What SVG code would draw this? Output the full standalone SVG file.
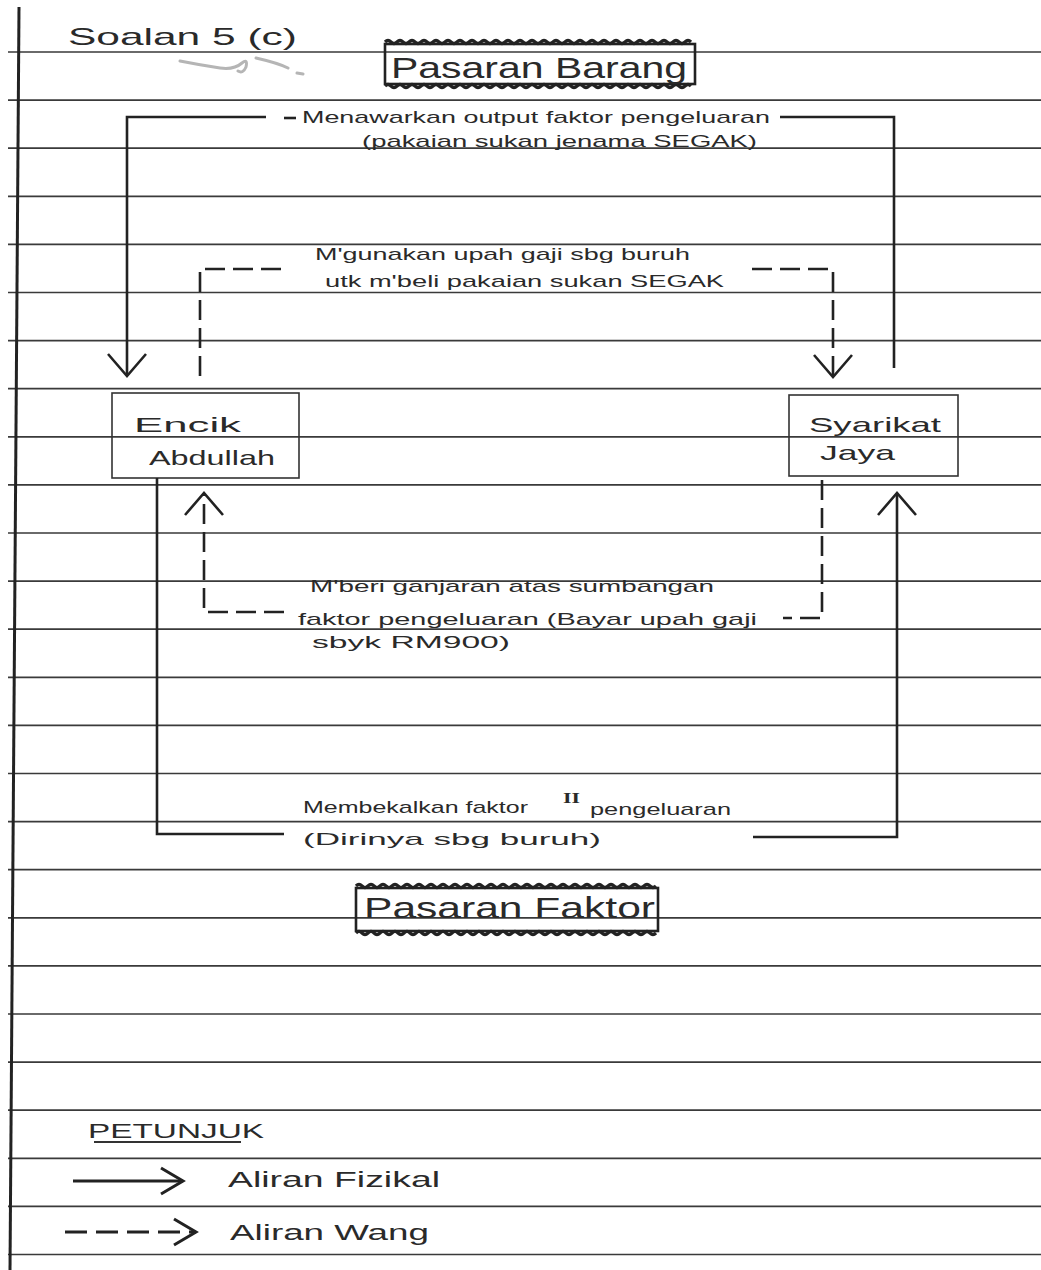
<svg xmlns="http://www.w3.org/2000/svg" width="1041" height="1270" viewBox="0 0 1041 1270">
<style>
.rule{stroke:#3a3a3a;stroke-width:1.7;fill:none}
.margin{stroke:#222;stroke-width:3;fill:none}
.t{font-family:"Liberation Sans","DejaVu Sans",sans-serif;fill:#2a2a2a}
.lbl{font-size:17px}
.big{font-size:30px}
.nd{font-size:21px}
.box{fill:none;stroke:#333;stroke-width:1.6}
.wbox{fill:none;stroke:#222;stroke-width:2.6}
.wave{fill:none;stroke:#222;stroke-width:3.2}
.solid{fill:none;stroke:#222;stroke-width:2.6}
.dash{fill:none;stroke:#222;stroke-width:2.6;stroke-dasharray:20 8}
</style>
<defs>
<marker id="ah" viewBox="-2 -22 27 44" refX="22" refY="0" markerWidth="27" markerHeight="44" markerUnits="userSpaceOnUse" orient="auto">
<path d="M0,-19 L22,0 L0,19" fill="none" stroke="#222" stroke-width="2.6" stroke-dasharray="none"/>
</marker>
<marker id="ahs" viewBox="-2 -16 27 32" refX="22" refY="0" markerWidth="27" markerHeight="32" markerUnits="userSpaceOnUse" orient="auto">
<path d="M0,-13 L22,0 L0,13" fill="none" stroke="#222" stroke-width="3" stroke-dasharray="none"/>
</marker>
</defs>
<rect width="1041" height="1270" fill="#fff"/>
<g id="paper">
<path class="rule" d="M8,52H1041M8,100.1H1041M8,148.2H1041M8,196.3H1041M8,244.4H1041M8,292.5H1041M8,340.6H1041M8,388.7H1041M8,436.8H1041M8,484.9H1041M8,533H1041M8,581.1H1041M8,629.2H1041M8,677.3H1041M8,725.4H1041M8,773.5H1041M8,821.6H1041M8,869.7H1041M8,917.8H1041M8,965.9H1041M8,1014H1041M8,1062.1H1041M8,1110.2H1041M8,1158.3H1041M8,1206.4H1041M8,1254.5H1041"/>
<path class="margin" d="M19,7L10,1270"/>
</g>
<g id="title">
<text class="t" x="68" y="45" font-size="24" textLength="229" lengthAdjust="spacingAndGlyphs">Soalan 5 (c)</text>
<path d="M180,61 q20,4 40,7 q14,2 22,-5 q6,-5 4,4 q-3,7 -8,4 M256,58 q22,5 32,10 M297,73 l6,1" fill="none" stroke="#b5b5b5" stroke-width="3" stroke-linecap="round"/>
</g>
<g id="pasaran-barang">
<rect class="wbox" x="385" y="44" width="310" height="40"/>
<path class="wave" d="M385,42 q3,-3 6,0 t6,0 t6,0 t6,0 t6,0 t6,0 t6,0 t6,0 t6,0 t6,0 t6,0 t6,0 t6,0 t6,0 t6,0 t6,0 t6,0 t6,0 t6,0 t6,0 t6,0 t6,0 t6,0 t6,0 t6,0 t6,0 t6,0 t6,0 t6,0 t6,0 t6,0 t6,0 t6,0 t6,0 t6,0 t6,0 t6,0 t6,0 t6,0 t6,0 t6,0 t6,0 t6,0 t6,0 t6,0 t6,0 t6,0 t6,0 t6,0 t6,0 t6,0"/>
<path class="wave" d="M385,86 q3,-3 6,0 t6,0 t6,0 t6,0 t6,0 t6,0 t6,0 t6,0 t6,0 t6,0 t6,0 t6,0 t6,0 t6,0 t6,0 t6,0 t6,0 t6,0 t6,0 t6,0 t6,0 t6,0 t6,0 t6,0 t6,0 t6,0 t6,0 t6,0 t6,0 t6,0 t6,0 t6,0 t6,0 t6,0 t6,0 t6,0 t6,0 t6,0 t6,0 t6,0 t6,0 t6,0 t6,0 t6,0 t6,0 t6,0 t6,0 t6,0 t6,0 t6,0 t6,0"/>
<text class="t big" x="391" y="78" textLength="296" lengthAdjust="spacingAndGlyphs">Pasaran Barang</text>
</g>
<g id="encik-abdullah">
<rect class="box" x="112" y="393" width="187" height="85"/>
<text class="t nd" x="134" y="432" textLength="107" lengthAdjust="spacingAndGlyphs">Encik</text>
<text class="t nd" x="149" y="465" textLength="126" lengthAdjust="spacingAndGlyphs">Abdullah</text>
</g>
<g id="syarikat-jaya">
<rect class="box" x="789" y="395" width="169" height="81"/>
<text class="t nd" x="809" y="432" textLength="132" lengthAdjust="spacingAndGlyphs">Syarikat</text>
<text class="t nd" x="820" y="460" textLength="75" lengthAdjust="spacingAndGlyphs">Jaya</text>
</g>
<g id="pasaran-faktor">
<rect class="wbox" x="356" y="888" width="302" height="43"/>
<path class="wave" d="M356,886 q3,-3 6,0 t6,0 t6,0 t6,0 t6,0 t6,0 t6,0 t6,0 t6,0 t6,0 t6,0 t6,0 t6,0 t6,0 t6,0 t6,0 t6,0 t6,0 t6,0 t6,0 t6,0 t6,0 t6,0 t6,0 t6,0 t6,0 t6,0 t6,0 t6,0 t6,0 t6,0 t6,0 t6,0 t6,0 t6,0 t6,0 t6,0 t6,0 t6,0 t6,0 t6,0 t6,0 t6,0 t6,0 t6,0 t6,0 t6,0 t6,0 t6,0 t6,0"/>
<path class="wave" d="M356,933 q3,-3 6,0 t6,0 t6,0 t6,0 t6,0 t6,0 t6,0 t6,0 t6,0 t6,0 t6,0 t6,0 t6,0 t6,0 t6,0 t6,0 t6,0 t6,0 t6,0 t6,0 t6,0 t6,0 t6,0 t6,0 t6,0 t6,0 t6,0 t6,0 t6,0 t6,0 t6,0 t6,0 t6,0 t6,0 t6,0 t6,0 t6,0 t6,0 t6,0 t6,0 t6,0 t6,0 t6,0 t6,0 t6,0 t6,0 t6,0 t6,0 t6,0 t6,0"/>
<text class="t big" x="364" y="918" textLength="291" lengthAdjust="spacingAndGlyphs">Pasaran Faktor</text>
</g>
<g id="connectors">
<path class="solid" d="M894,368V117H780"/>
<path class="solid" d="M266,117H127V376" marker-end="url(#ah)"/>
<path class="solid" d="M284,118H296"/>
<path class="dash" d="M200,376V269H287"/>
<path class="dash" d="M752,269H833V377" marker-end="url(#ah)"/>
<path class="dash" d="M822,480V618H783"/>
<path class="dash" d="M284,612H204V493" marker-end="url(#ah)"/>
<path class="solid" d="M157,478V834H284"/>
<path class="solid" d="M753,837H897V493" marker-end="url(#ah)"/>
</g>
<g id="labels">
<text class="t lbl" x="302" y="123" textLength="468" lengthAdjust="spacingAndGlyphs">Menawarkan output faktor pengeluaran</text>
<text class="t lbl" x="362" y="147" textLength="395" lengthAdjust="spacingAndGlyphs">(pakaian sukan jenama SEGAK)</text>
<text class="t lbl" x="315" y="260" textLength="375" lengthAdjust="spacingAndGlyphs">M'gunakan upah gaji sbg buruh</text>
<text class="t lbl" x="325" y="287" textLength="399" lengthAdjust="spacingAndGlyphs">utk m'beli pakaian sukan SEGAK</text>
<text class="t lbl" x="310" y="592" textLength="404" lengthAdjust="spacingAndGlyphs">M'beri ganjaran atas sumbangan</text>
<text class="t lbl" x="298" y="625" textLength="459" lengthAdjust="spacingAndGlyphs">faktor pengeluaran (Bayar upah gaji</text>
<text class="t lbl" x="312" y="648" textLength="198" lengthAdjust="spacingAndGlyphs">sbyk RM900)</text>
<text class="t lbl" x="303" y="813" textLength="225" lengthAdjust="spacingAndGlyphs">Membekalkan faktor</text>
<text x="563" y="803" font-family="'Liberation Serif',serif" font-size="15" fill="#2a2a2a" font-weight="bold" textLength="17" lengthAdjust="spacingAndGlyphs">II</text>
<text class="t lbl" x="590" y="815" textLength="141" lengthAdjust="spacingAndGlyphs">pengeluaran</text>
<text class="t lbl" x="303" y="845" textLength="298" lengthAdjust="spacingAndGlyphs">(Dirinya sbg buruh)</text>
</g>
<g id="legend">
<text class="t" x="88" y="1138" font-size="20" textLength="176" lengthAdjust="spacingAndGlyphs">PETUNJUK</text>
<path d="M94,1142H241" stroke="#333" stroke-width="1.8" fill="none"/>
<path d="M73,1181H183" stroke="#222" stroke-width="3.2" fill="none" marker-end="url(#ahs)"/>
<text class="t" x="228" y="1187" font-size="22" textLength="212" lengthAdjust="spacingAndGlyphs">Aliran Fizikal</text>
<path d="M65,1232H196" stroke="#222" stroke-width="3.2" fill="none" stroke-dasharray="22 9" marker-end="url(#ahs)"/>
<text class="t" x="230" y="1240" font-size="22" textLength="199" lengthAdjust="spacingAndGlyphs">Aliran Wang</text>
</g>
</svg>
